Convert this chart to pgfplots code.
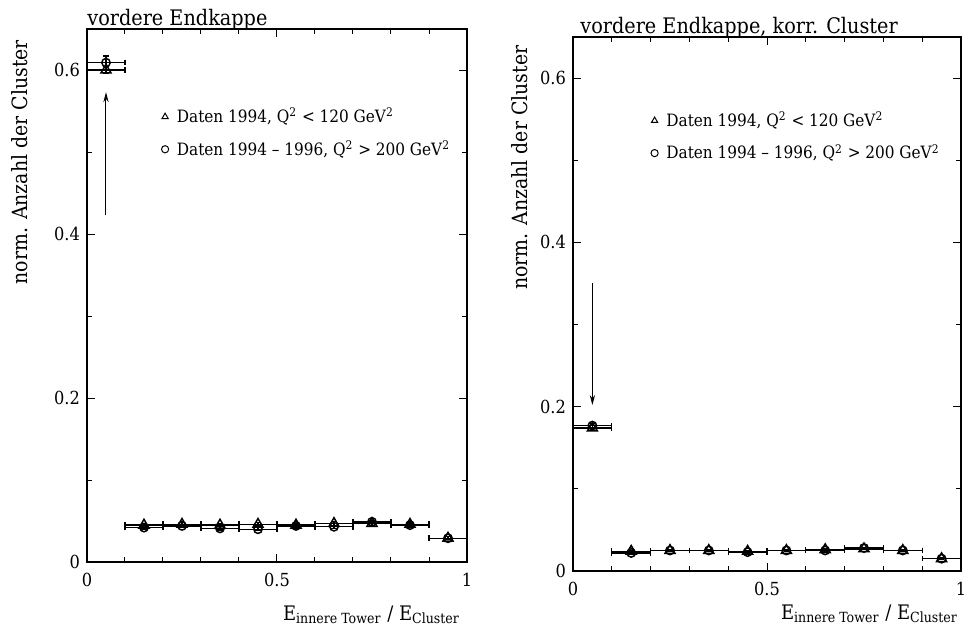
\documentclass[border=0pt]{standalone}
\usepackage{fontspec}
\setmainfont{DejaVu Serif Condensed}
\usepackage{pgfplots}
\pgfplotsset{compat=1.18}
\usetikzlibrary{arrows.meta}

\pgfplotstableread{
x y ex ey
0.05 0.600 0.05 0.004
0.15 0.045 0.05 0.002
0.25 0.046 0.05 0.002
0.35 0.045 0.05 0.002
0.45 0.046 0.05 0.002
0.55 0.045 0.05 0.002
0.65 0.047 0.05 0.002
0.75 0.047 0.05 0.002
0.85 0.046 0.05 0.002
0.95 0.029 0.05 0.002
}\leftTri
\pgfplotstableread{
x y ex ey
0.05 0.609 0.05 0.008
0.15 0.042 0.05 0.002
0.25 0.044 0.05 0.002
0.35 0.041 0.05 0.002
0.45 0.040 0.05 0.002
0.55 0.044 0.05 0.002
0.65 0.043 0.05 0.002
0.75 0.049 0.05 0.002
0.85 0.045 0.05 0.002
0.95 0.029 0.05 0.002
}\leftCirc
\pgfplotstableread{
x y ex ey
0.05 0.174 0.05 0.003
0.15 0.024 0.05 0.001
0.25 0.025 0.05 0.001
0.35 0.025 0.05 0.001
0.45 0.024 0.05 0.001
0.55 0.025 0.05 0.001
0.65 0.026 0.05 0.001
0.75 0.027 0.05 0.001
0.85 0.025 0.05 0.001
0.95 0.015 0.05 0.001
}\rightTri
\pgfplotstableread{
x y ex ey
0.05 0.177 0.05 0.003
0.15 0.022 0.05 0.001
0.25 0.025 0.05 0.001
0.35 0.025 0.05 0.001
0.45 0.023 0.05 0.001
0.55 0.025 0.05 0.001
0.65 0.025 0.05 0.001
0.75 0.028 0.05 0.001
0.85 0.025 0.05 0.001
0.95 0.015 0.05 0.001
}\rightCirc

\pgfplotsset{
  myax/.style={
    scale only axis, clip=false,
    xmin=0, xmax=1, ymin=0, ymax=0.65,
    xtick={0,0.5,1}, xticklabels={0,0.5,1},
    minor xtick={0.1,0.2,0.3,0.4,0.6,0.7,0.8,0.9},
    ytick={0,0.2,0.4,0.6}, yticklabels={0,0.2,0.4,0.6},
    minor ytick={0.1,0.3,0.5},
    tick align=inside, tick pos=both,
    major tick length=4pt, minor tick length=2.5pt,
    axis line style={line width=0.8pt},
    every tick/.style={black, line width=0.5pt},
    tick label style={font=\fontsize{9}{10}\selectfont},
    xticklabel style={yshift=-2pt},
    /pgf/number format/assume math mode=true,
    legend cell align=left,
    legend style={draw=none, fill=none, font=\fontsize{8.5}{10}\selectfont,
      row sep=3.5pt, inner sep=0pt},
    legend image code/.code={\path (0,0) (0.18cm,0);
      \draw[#1, mark size=1.8pt, mark options={line width=0.5pt}] plot coordinates {(0.05cm,0cm)};},
  },
  errs/.style={
    error bars/x dir=both, error bars/x explicit,
    error bars/y dir=both, error bars/y explicit,
    error bars/error bar style={line width=0.7pt},
    error bars/error mark options={rotate=90, line width=0.6pt, mark size=1.4pt},
  },
  tri/.style={only marks, mark=triangle, mark size=2.9pt,
    mark options={fill=white, line width=0.75pt}, errs},
  circ/.style={only marks, mark=o, mark size=2.1pt,
    mark options={fill=white, line width=0.75pt}, errs},
}

\begin{document}
\begin{tikzpicture}
\path[use as bounding box] (0,0) rectangle (482.5pt,-314.5pt);

% left panel
\begin{axis}[myax,
  at={(43.5pt,-281pt)}, anchor=south west,
  width=190pt, height=266.5pt,
  legend style={at={(axis description cs:0.195,0.86)}, anchor=north west},
  xlabel={E\textsubscript{innere Tower} / E\textsubscript{Cluster}},
  xlabel style={at={(axis description cs:1,0)}, anchor=base east, yshift=-29pt,
    font=\fontsize{10}{12}\selectfont},
  ylabel={norm. Anzahl der Cluster},
  ylabel style={at={(axis description cs:-0.176,0.75)}, anchor=center, rotate=0,
    font=\fontsize{10.5}{12}\selectfont},
]
\addplot[tri, black] table[x=x, y=y, x error=ex, y error=ey] {\leftTri};
\addlegendentry{Daten 1994, Q\textsuperscript{2} < 120 GeV\textsuperscript{2}}
\addplot[circ, black] table[x=x, y=y, x error=ex, y error=ey] {\leftCirc};
\addlegendentry{Daten 1994 – 1996, Q\textsuperscript{2} > 200 GeV\textsuperscript{2}}
\draw[-{Stealth[length=5pt, width=2.6pt]}, line width=0.5pt] (axis cs:0.05,0.423) -- (axis cs:0.05,0.573);
\node[anchor=base west, inner sep=0pt, font=\fontsize{10.7}{12}\selectfont] at ([yshift=2pt]axis description cs:0,1) {vordere Endkappe};
\end{axis}

% right panel
\begin{axis}[myax,
  at={(286.5pt,-285.5pt)}, anchor=south west,
  width=194pt, height=267pt,
  legend style={at={(axis description cs:0.2,0.868)}, anchor=north west},
  xlabel={E\textsubscript{innere Tower} / E\textsubscript{Cluster}},
  xlabel style={at={(axis description cs:1,0)}, anchor=base east, yshift=-24pt, xshift=2pt,
    font=\fontsize{10}{12}\selectfont},
  ylabel={norm. Anzahl der Cluster},
  ylabel style={at={(axis description cs:-0.137,0.755)}, anchor=center, rotate=0,
    font=\fontsize{10.5}{12}\selectfont},
]
\addplot[tri, black] table[x=x, y=y, x error=ex, y error=ey] {\rightTri};
\addlegendentry{Daten 1994, Q\textsuperscript{2} < 120 GeV\textsuperscript{2}}
\addplot[circ, black] table[x=x, y=y, x error=ex, y error=ey] {\rightCirc};
\addlegendentry{Daten 1994 – 1996, Q\textsuperscript{2} > 200 GeV\textsuperscript{2}}
\draw[-{Stealth[length=5pt, width=2.6pt]}, line width=0.5pt] (axis cs:0.05,0.35) -- (axis cs:0.05,0.202);
\node[anchor=base west, inner sep=0pt, font=\fontsize{10.7}{12}\selectfont] at ([xshift=3.5pt,yshift=2pt]axis description cs:0,1) {vordere Endkappe, korr. Cluster};
\end{axis}
\end{tikzpicture}
\end{document}
